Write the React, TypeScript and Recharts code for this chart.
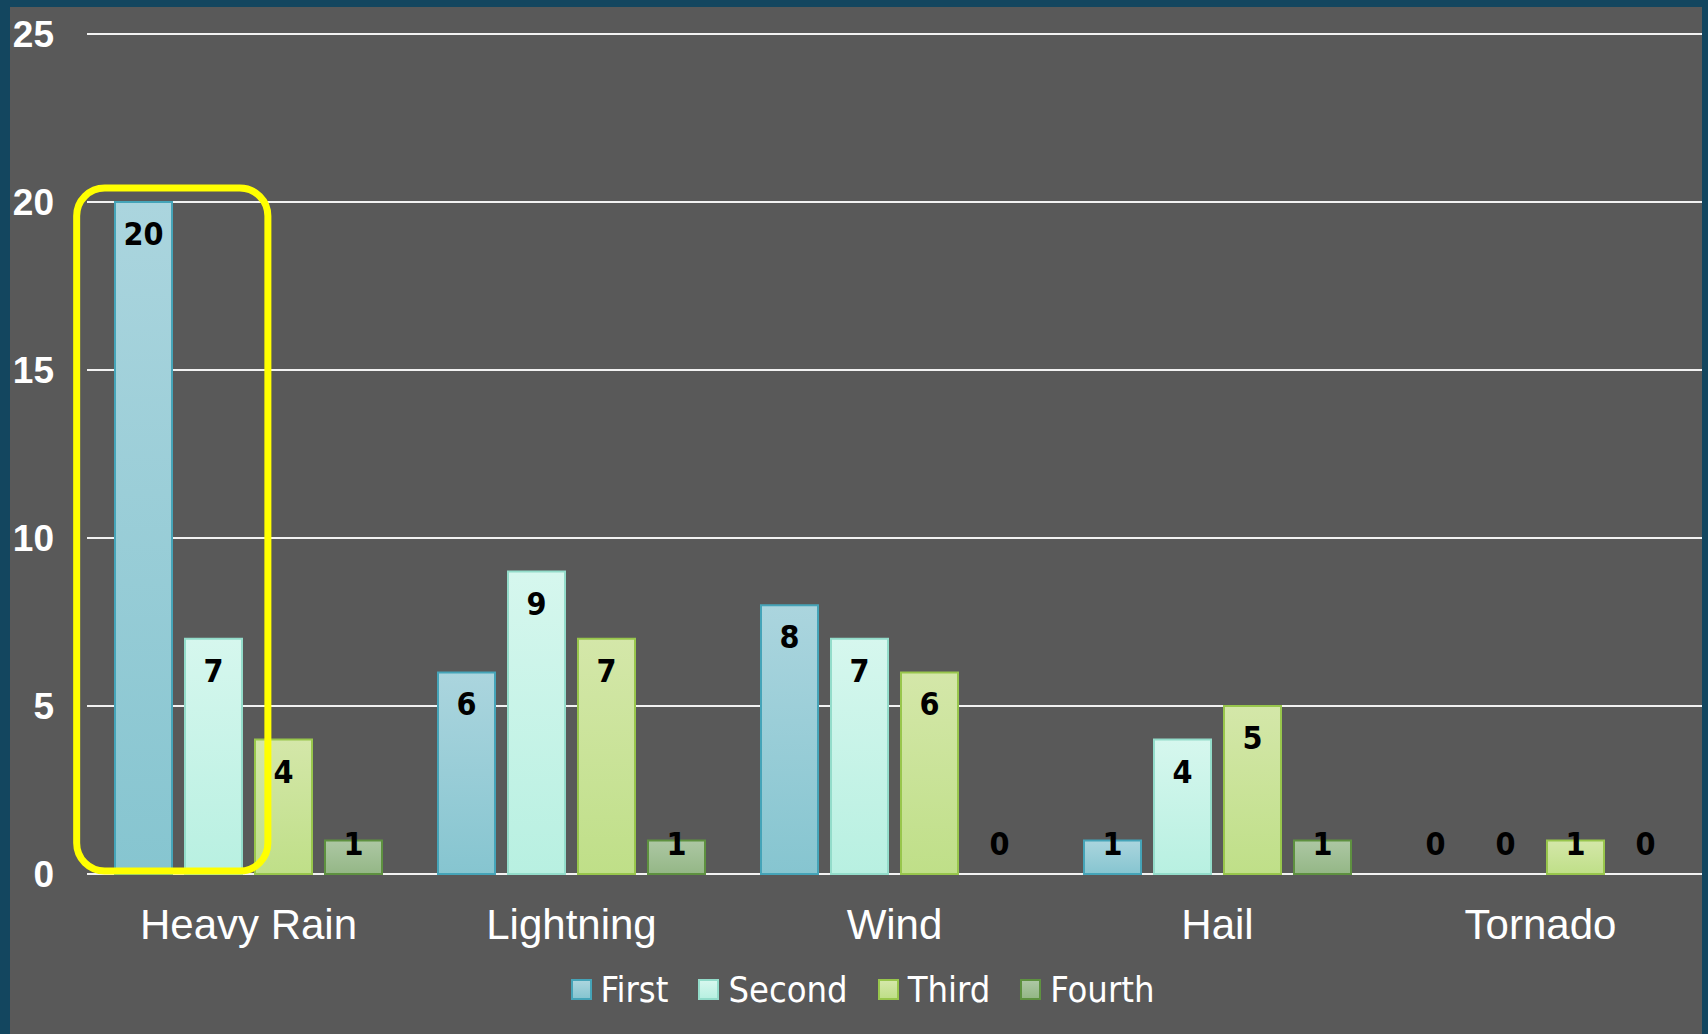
import React from "react";
import {
  Bar,
  BarChart,
  CartesianGrid,
  Cell,
  LabelList,
  Legend,
  ReferenceArea,
  XAxis,
  YAxis,
} from "recharts";

const categories = ["Heavy Rain", "Lightning", "Wind", "Hail", "Tornado"];
const first = [20, 6, 8, 1, 0];
const second = [7, 9, 7, 4, 0];
const third = [4, 7, 6, 5, 1];
const fourth = [1, 1, 0, 1, 0];
const yTicks = [0, 5, 10, 15, 20, 25];

const series = [
  { key: "first", name: "First", values: first, top: "#abd5de", bottom: "#86c5d0", stroke: "#45a4b8" },
  { key: "second", name: "Second", values: second, top: "#d6f7ee", bottom: "#b8f0e1", stroke: "#93dcca" },
  { key: "third", name: "Third", values: third, top: "#d4e7a9", bottom: "#bfdf88", stroke: "#98c64c" },
  { key: "fourth", name: "Fourth", values: fourth, top: "#adc7a4", bottom: "#94b786", stroke: "#5e9140" },
];

const data = categories.map((name, i) => {
  const row: Record<string, string | number> = { name };
  series.forEach((s) => {
    row[s.key] = s.values[i];
  });
  return row;
});

const condensed = "'DejaVu Sans Condensed', 'DejaVu Sans', sans-serif";

// value label sits just under the bar top, but never lower than the baseline strip
const renderValue = (props: any) => {
  const vb = props.viewBox || props;
  const x = vb.x ?? props.x;
  const y = vb.y ?? props.y;
  const width = vb.width ?? props.width;
  const height = vb.height ?? props.height;
  const base = y + height;
  const cy = Math.min(y + 32, base - 30);
  return (
    <text
      x={x + width / 2}
      y={cy}
      textAnchor="middle"
      dominantBaseline="central"
      fill="#000"
      style={{ fontFamily: condensed, fontStretch: "condensed", fontWeight: 700, fontSize: 32 }}
    >
      {props.value}
    </text>
  );
};

// rounded highlight around the first two bars of the first category
const HighlightBox = (props: any) => {
  const { x, y, width, height } = props;
  const left = x - 0.032 * width;
  const right = x + 0.56 * width;
  const top = y - 14;
  const bottom = y + height - 3;
  return (
    <rect
      x={left}
      y={top}
      width={right - left}
      height={bottom - top}
      rx={28}
      ry={28}
      fill="none"
      stroke="#ffff00"
      strokeWidth={7}
    />
  );
};

const LegendContent = () => (
  <div
    style={{
      display: "flex",
      justifyContent: "center",
      alignItems: "center",
      height: 90,
      paddingLeft: 13,
      fontFamily: condensed,
      fontStretch: "condensed",
      fontSize: 36,
      color: "#fff",
    }}
  >
    {series.map((s) => (
      <div key={s.key} style={{ display: "flex", alignItems: "center", margin: "0 15px" }}>
        <span
          style={{
            width: 17,
            height: 17,
            border: `2px solid ${s.stroke}`,
            background: `linear-gradient(${s.top}, ${s.bottom})`,
            marginRight: 9,
          }}
        />
        <span>{s.name}</span>
      </div>
    ))}
  </div>
);

export default function App() {
  return (
    <div
      style={{
        position: "absolute",
        left: 0,
        top: 0,
        width: 1708,
        height: 1034,
        background: "#13465f",
      }}
    >
      <div style={{ position: "absolute", left: 10, top: 7, width: 1692, height: 1027, background: "#595959" }}>
        <BarChart
          width={1692}
          height={1027}
          data={data}
          margin={{ top: 27, right: 0, bottom: 0, left: 0 }}
          barSize={57}
          barGap={13}
        >
          <defs>
            {series.map((s) => (
              <linearGradient key={s.key} id={`grad-${s.key}`} x1="0" y1="0" x2="0" y2="1">
                <stop offset="0%" stopColor={s.top} />
                <stop offset="100%" stopColor={s.bottom} />
              </linearGradient>
            ))}
          </defs>
          <CartesianGrid vertical={false} stroke="#f2f2f2" strokeWidth={2} />
          <XAxis
            dataKey="name"
            axisLine={false}
            tickLine={false}
            tickSize={0}
            tickMargin={35}
            height={70}
            interval={0}
            tick={{ fill: "#fff", fontFamily: "'Liberation Sans', Arial, sans-serif", fontSize: 42 }}
          />
          <YAxis
            domain={[0, 25]}
            ticks={yTicks}
            width={77}
            axisLine={false}
            tickLine={false}
            tickSize={0}
            tickMargin={33}
            tick={{ fill: "#fff", fontFamily: "'Liberation Sans', Arial, sans-serif", fontWeight: 700, fontSize: 37 }}
          />
          {series.map((s) => (
            <Bar
              key={s.key}
              dataKey={s.key}
              name={s.name}
              fill={`url(#grad-${s.key})`}
              stroke={s.stroke}
              strokeWidth={2}
              minPointSize={1}
              isAnimationActive={false}
            >
              {/* zero values keep an invisible sliver so their "0" label still renders */}
              {s.values.map((v, i) => (
                <Cell
                  key={i}
                  fill={v === 0 ? "none" : `url(#grad-${s.key})`}
                  stroke={v === 0 ? "none" : s.stroke}
                />
              ))}
              <LabelList dataKey={s.key} content={renderValue} />
            </Bar>
          ))}
          <ReferenceArea
            x1="Heavy Rain"
            x2="Heavy Rain"
            y1={0}
            y2={20}
            shape={HighlightBox}
            ifOverflow="visible"
            zIndex={1500}
          />
          <Legend verticalAlign="bottom" height={90} content={LegendContent} />
        </BarChart>
      </div>
    </div>
  );
}
